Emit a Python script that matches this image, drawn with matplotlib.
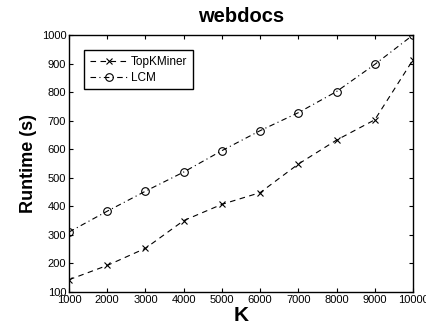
import matplotlib
matplotlib.use('Agg')
import matplotlib.pyplot as plt

plt.rcParams['font.family'] = ['Liberation Sans', 'DejaVu Sans']

k_values = [1000, 2000, 3000, 4000, 5000, 6000, 7000, 8000, 9000, 10000]
topk_miner = [143, 193, 253, 350, 407, 448, 548, 632, 703, 913]
lcm = [310, 383, 453, 520, 595, 665, 728, 802, 897, 1000]

fig = plt.figure(figsize=(4.27, 3.31), dpi=100)
ax = fig.add_axes([69 / 427, 1 - 292 / 331, 344 / 427, 257 / 331])

ax.plot(k_values, topk_miner, color='black', linestyle=(0, (5, 4)), linewidth=0.8,
        marker='x', markersize=4.5, markeredgewidth=0.8, label='TopKMiner')
ax.plot(k_values, lcm, color='black', linestyle=(0, (5, 3, 1, 3)), linewidth=0.8,
        marker='o', markersize=5.5, markerfacecolor='none', markeredgewidth=0.8, label='LCM')

ax.set_xlim(1000, 10000)
ax.set_ylim(100, 1000)
ax.set_xticks(k_values)
ax.set_yticks(range(100, 1001, 100))
ax.tick_params(direction='in', top=True, right=True, labelsize=8, length=3, pad=2)
for s in ax.spines.values():
    s.set_linewidth(1.0)

ax.set_title('webdocs', fontsize=14.5, fontweight='bold', pad=9)
ax.set_xlabel('K', fontsize=15, fontweight='bold', labelpad=1)
ax.set_ylabel('Runtime (s)', fontsize=13, fontweight='bold', labelpad=3)

leg = ax.legend(loc='upper left', fontsize=8.5, fancybox=False, framealpha=1,
                edgecolor='black', handlelength=3.2, borderaxespad=1.3,
                labelspacing=0.35, handletextpad=0.3, borderpad=0.45)
leg.get_frame().set_linewidth(1.0)

fig.savefig('out.png', dpi=100)
